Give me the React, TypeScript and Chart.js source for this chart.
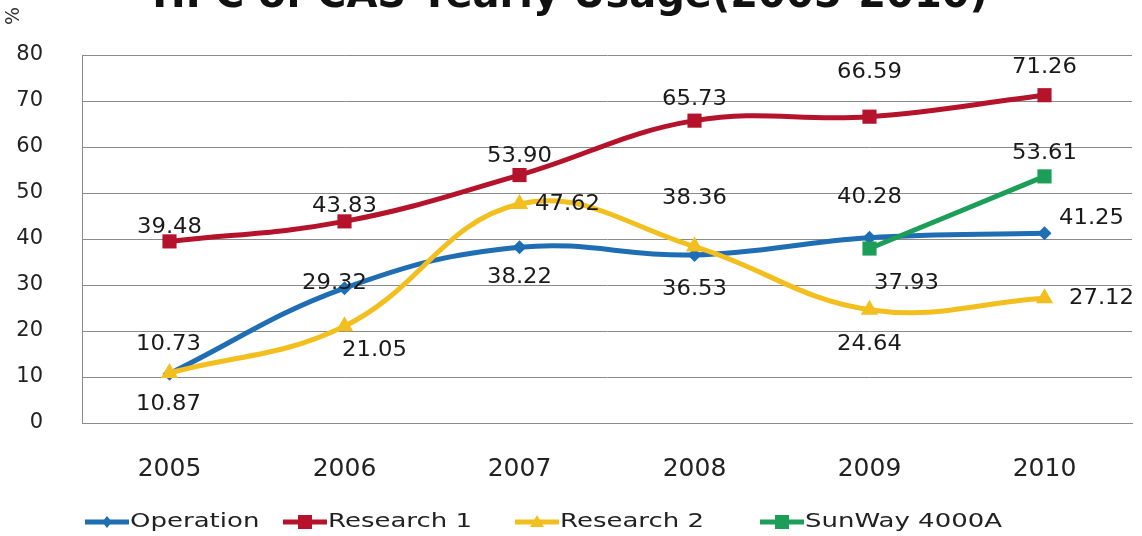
import React, { useEffect, useRef } from 'react';
import { Chart, registerables } from 'chart.js';

Chart.register(...registerables);

const years = ['2005', '2006', '2007', '2008', '2009', '2010'];
const operation = [10.73, 29.32, 38.22, 36.53, 40.28, 41.25];
const research1 = [39.48, 43.83, 53.9, 65.73, 66.59, 71.26];
const research2 = [10.87, 21.05, 47.62, 38.36, 24.64, 27.12];
const sunway = [null, null, null, null, 37.93, 53.61];
const seriesNames = ['Operation', 'Research 1', 'Research 2', 'SunWay 4000A'];
const titleText = 'HPC of CAS Yearly Usage(2005-2010)';
const yUnit = '%';

// label offsets (style only): [dx, dy] from each point
const labelOffsets = [
  [[-1, -29], [-10, -5], [0, 30], [0, 35], [0, -40], [47, -15]],
  [[0, -14], [0, -15], [0, -19], [0, -21], [0, -44], [0, -28]],
  [[-1, 32], [30, 24], [48, 1], [0, -48], [0, 35], [57, 0]],
  [[0, 0], [0, 0], [0, 0], [0, 0], [37, 35], [0, -23]],
];

const colors = ['#1f6db3', '#b5122b', '#f2bf1f', '#1c9e58'];
const pointStyles = ['rectRot', 'rect', 'triangle', 'rect'];
const pointRadii = [7, 10, 10, 10];
const legendX = [85, 283, 515, 760];

const W = 1142;
const H = 536;

function stretchedText(ctx: any, text: string, x: number, y: number, sx: number, align: string) {
  ctx.save();
  ctx.translate(x, y);
  ctx.scale(sx, 1);
  ctx.textAlign = align;
  ctx.fillText(text, 0, 0);
  ctx.restore();
}

const overlayPlugin = {
  id: 'overlay',
  afterDatasetsDraw(chart: any) {
    const ctx = chart.ctx;
    ctx.save();
    ctx.font = '21px "DejaVu Sans"';
    ctx.fillStyle = '#1a1a1a';
    ctx.textBaseline = 'middle';
    chart.data.datasets.forEach((ds: any, di: number) => {
      const meta = chart.getDatasetMeta(di);
      meta.data.forEach((pt: any, i: number) => {
        const v = ds.data[i];
        if (v === null || v === undefined) return;
        const off = labelOffsets[di][i];
        stretchedText(ctx, Number(v).toFixed(2), pt.x + off[0], pt.y + off[1], 1.08, 'center');
      });
    });
    ctx.restore();
  },
  afterDraw(chart: any) {
    const ctx = chart.ctx;
    ctx.save();
    // title (cropped at top)
    ctx.font = 'bold 40px "DejaVu Sans"';
    ctx.fillStyle = '#111';
    ctx.textAlign = 'center';
    ctx.textBaseline = 'alphabetic';
    ctx.fillText(titleText, 570, 7, 860);
    // unit label
    ctx.save();
    ctx.translate(14, 16);
    ctx.rotate(-Math.PI / 2);
    ctx.font = '19px "DejaVu Sans"';
    ctx.fillStyle = '#333';
    ctx.textAlign = 'center';
    ctx.textBaseline = 'middle';
    ctx.fillText(yUnit, 0, 0);
    ctx.restore();
    // legend
    const ly = 522;
    seriesNames.forEach((name, i) => {
      const x0 = legendX[i];
      ctx.strokeStyle = colors[i];
      ctx.lineWidth = 5;
      ctx.beginPath();
      ctx.moveTo(x0, ly);
      ctx.lineTo(x0 + 44, ly);
      ctx.stroke();
      ctx.fillStyle = colors[i];
      const cx = x0 + 22;
      const r = i === 0 ? 6 : 7;
      ctx.beginPath();
      if (pointStyles[i] === 'rectRot') {
        ctx.moveTo(cx, ly - r);
        ctx.lineTo(cx + r * 0.8, ly);
        ctx.lineTo(cx, ly + r);
        ctx.lineTo(cx - r * 0.8, ly);
        ctx.closePath();
      } else if (pointStyles[i] === 'triangle') {
        ctx.moveTo(cx, ly - r);
        ctx.lineTo(cx + r, ly + r * 0.7);
        ctx.lineTo(cx - r, ly + r * 0.7);
        ctx.closePath();
      } else {
        ctx.rect(cx - r, ly - r, 2 * r, 2 * r);
      }
      ctx.fill();
      ctx.font = '20px "DejaVu Sans"';
      ctx.fillStyle = '#222';
      ctx.textBaseline = 'middle';
      stretchedText(ctx, name, x0 + 45, ly, 1.3, 'left');
    });
    ctx.restore();
  },
};

export default function App() {
  const ref = useRef<HTMLCanvasElement | null>(null);
  useEffect(() => {
    if (!ref.current) return;
    const all = [operation, research1, research2, sunway];
    const chart = new Chart(ref.current, {
      type: 'line',
      data: {
        labels: years,
        datasets: all.map((d, i) => ({
          label: seriesNames[i],
          data: d as any,
          borderColor: colors[i],
          backgroundColor: colors[i],
          borderWidth: 5,
          tension: 0.4,
          pointStyle: pointStyles[i] as any,
          pointRadius: pointRadii[i],
          pointBorderWidth: 0,
          pointBackgroundColor: colors[i],
          spanGaps: false,
          order: 4 - i,
          fill: false,
        })),
      },
      options: {
        responsive: false,
        animation: false,
        devicePixelRatio: 1,
        layout: { padding: { left: 0, right: 8, top: 55, bottom: 53 } },
        plugins: {
          legend: { display: false },
          title: { display: false },
          tooltip: { enabled: false },
        },
        scales: {
          x: {
            type: 'category',
            offset: true,
            grid: { display: false, drawTicks: false },
            border: { display: true, color: '#8a8a8a', width: 1 },
            ticks: {
              font: { family: '"DejaVu Sans"', size: 25 },
              color: '#222',
              padding: 31,
              maxRotation: 0,
            },
            afterFit: (s: any) => {
              s.height = 60;
            },
          },
          y: {
            min: 0,
            max: 80,
            grid: { color: '#8a8a8a', lineWidth: 1, drawTicks: false },
            border: { display: true, color: '#8a8a8a', width: 1 },
            ticks: {
              stepSize: 10,
              font: { family: '"DejaVu Sans"', size: 21 },
              color: '#222',
              padding: 39,
            },
            afterFit: (s: any) => {
              s.width = 82;
            },
          },
        },
      },
      plugins: [overlayPlugin],
    });
    return () => chart.destroy();
  }, []);
  return (
    <div style={{ position: 'absolute', left: 0, top: 0, width: W, height: H, background: '#fff' }}>
      <canvas ref={ref} width={W} height={H} style={{ display: 'block', width: W, height: H }} />
    </div>
  );
}
